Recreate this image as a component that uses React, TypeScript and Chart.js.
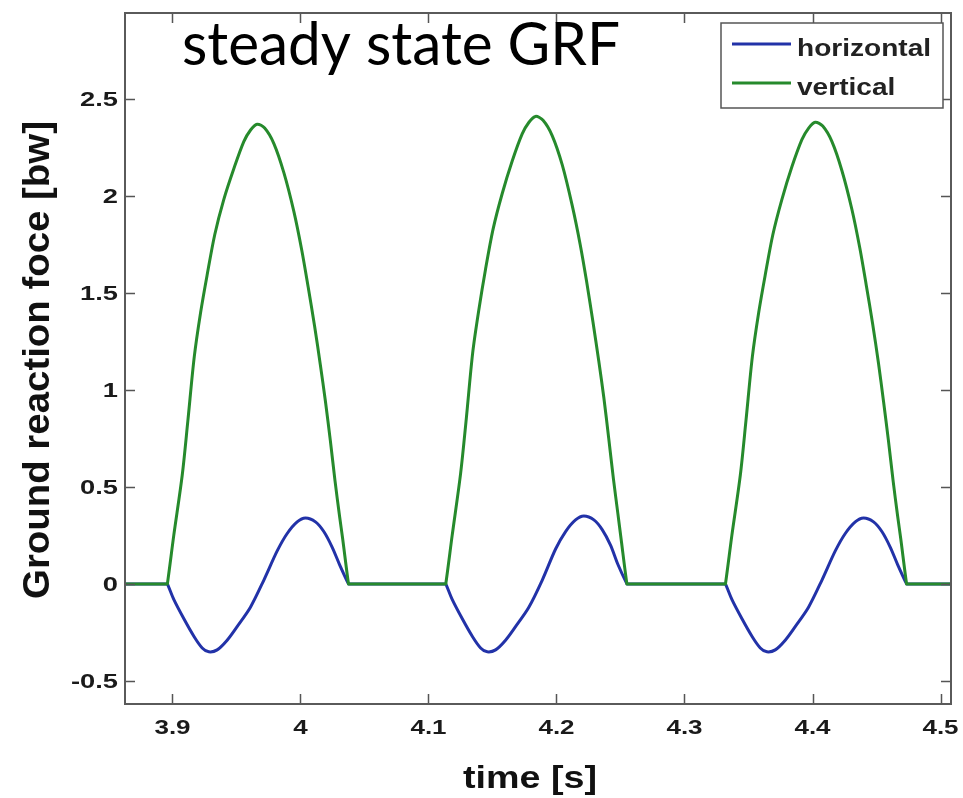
import React, { useEffect, useRef } from "react";
import { Chart, registerables } from "chart.js";

Chart.register(...registerables);

// ---- data ----
const timeV = [
  3.86, 3.8955,
  3.896, 3.901, 3.9076, 3.912, 3.917, 3.922, 3.927, 3.933, 3.94, 3.9479, 3.9557, 3.961, 3.9661,
  3.972, 3.9792, 3.987, 3.9948, 4.001, 4.006, 4.011, 4.0155, 4.0195, 4.0233, 4.027, 4.0305, 4.033, 4.0375,
  4.038, 4.113,
  4.1135, 4.1185, 4.1251, 4.1295, 4.1345, 4.1395, 4.1445, 4.1505, 4.1575, 4.1654, 4.1732, 4.1785, 4.1836,
  4.1895, 4.1967, 4.2045, 4.2123, 4.2185, 4.2235, 4.2285, 4.233, 4.237, 4.2408, 4.2445, 4.248, 4.2505, 4.255,
  4.2555, 4.3315,
  4.332, 4.337, 4.3436, 4.348, 4.353, 4.358, 4.363, 4.369, 4.376, 4.3839, 4.3917, 4.397, 4.4021,
  4.408, 4.4152, 4.423, 4.4308, 4.437, 4.442, 4.447, 4.4515, 4.4555, 4.4593, 4.463, 4.4665, 4.469, 4.4735,
  4.474, 4.51,
];
const vertical = [
  0, 0,
  0, 0.25, 0.56, 0.84, 1.17, 1.4, 1.59, 1.8, 1.98, 2.14, 2.28, 2.34, 2.37,
  2.35, 2.27, 2.12, 1.92, 1.72, 1.53, 1.33, 1.13, 0.94, 0.74, 0.53, 0.35, 0.23, 0,
  0, 0,
  0, 0.25, 0.57, 0.85, 1.19, 1.42, 1.62, 1.83, 2.01, 2.18, 2.32, 2.38, 2.41,
  2.39, 2.31, 2.16, 1.95, 1.75, 1.56, 1.35, 1.15, 0.96, 0.75, 0.54, 0.36, 0.23, 0,
  0, 0,
  0, 0.25, 0.56, 0.84, 1.17, 1.4, 1.59, 1.8, 1.98, 2.15, 2.29, 2.35, 2.38,
  2.36, 2.28, 2.13, 1.93, 1.73, 1.54, 1.34, 1.14, 0.94, 0.74, 0.53, 0.35, 0.23, 0,
  0, 0,
];
const timeH = [
  3.86, 3.8955,
  3.896, 3.901, 3.9089, 3.9167, 3.9232, 3.9284, 3.9349, 3.9427, 3.9505, 3.9609,
  3.9714, 3.9818, 3.9896, 3.9974, 4.0039, 4.0117, 4.0182, 4.0247, 4.0305, 4.0375,
  4.038, 4.113,
  4.1135, 4.1185, 4.1264, 4.1342, 4.1407, 4.1459, 4.1524, 4.1602, 4.168, 4.1784,
  4.1889, 4.1993, 4.2071, 4.2149, 4.2214, 4.2292, 4.2357, 4.2422, 4.248, 4.255,
  4.2555, 4.3315,
  4.332, 4.337, 4.3449, 4.3527, 4.3592, 4.3644, 4.3709, 4.3787, 4.3865, 4.3969,
  4.4074, 4.4178, 4.4256, 4.4334, 4.4399, 4.4477, 4.4542, 4.4607, 4.4665, 4.4735,
  4.474, 4.51,
];
const horizontal = [
  0, 0,
  0, -0.08, -0.18, -0.27, -0.33, -0.35, -0.34, -0.29, -0.22, -0.12,
  0.02, 0.17, 0.26, 0.32, 0.34, 0.32, 0.27, 0.19, 0.1, 0,
  0, 0,
  0, -0.08, -0.18, -0.27, -0.33, -0.35, -0.34, -0.29, -0.22, -0.12,
  0.02, 0.18, 0.27, 0.33, 0.35, 0.33, 0.28, 0.2, 0.1, 0,
  0, 0,
  0, -0.08, -0.18, -0.27, -0.33, -0.35, -0.34, -0.29, -0.22, -0.12,
  0.02, 0.17, 0.26, 0.32, 0.34, 0.32, 0.27, 0.19, 0.1, 0,
  0, 0,
];
const xTicks = [3.9, 4, 4.1, 4.2, 4.3, 4.4, 4.5];
const xTickLabels = ["3.9", "4", "4.1", "4.2", "4.3", "4.4", "4.5"];
const yTicks = [-0.5, 0, 0.5, 1, 1.5, 2, 2.5];
const yTickLabels = ["-0.5", "0", "0.5", "1", "1.5", "2", "2.5"];
const seriesLabels = ["horizontal", "vertical"];
const titleText = "steady state GRF";
const xTitle = "time [s]";
const yTitle = "Ground reaction foce [bw]";

const BLUE = "#2232a8";
const GREEN = "#268a2c";
const BOLD = '"Liberation Sans", Arial, sans-serif';

function drawStretched(
  ctx: CanvasRenderingContext2D,
  text: string,
  x: number,
  y: number,
  font: string,
  sx: number | null,
  targetW: number | null,
  align: CanvasTextAlign,
  baseline: CanvasTextBaseline,
  color: string
) {
  ctx.save();
  ctx.font = font;
  ctx.fillStyle = color;
  ctx.textAlign = align;
  ctx.textBaseline = baseline;
  let s = sx ?? 1;
  if (targetW) {
    const w = ctx.measureText(text).width;
    s = targetW / w;
  }
  ctx.translate(x, y);
  ctx.scale(s, 1);
  ctx.fillText(text, 0, 0);
  ctx.restore();
}

const decor = {
  id: "matlabDecor",
  afterDraw(chart: any) {
    const ctx: CanvasRenderingContext2D = chart.ctx;
    const { left, right, top, bottom } = chart.chartArea;
    const xs = chart.scales.x;
    const ys = chart.scales.y;
    ctx.save();
    // ticks (inward, all four sides)
    ctx.strokeStyle = "#555";
    ctx.lineWidth = 1.5;
    const TL = 10;
    xTicks.forEach((v) => {
      const px = Math.round(xs.getPixelForValue(v)) + 0.5;
      ctx.beginPath();
      ctx.moveTo(px, bottom);
      ctx.lineTo(px, bottom - TL);
      ctx.moveTo(px, top);
      ctx.lineTo(px, top + TL);
      ctx.stroke();
    });
    yTicks.forEach((v) => {
      const py = Math.round(ys.getPixelForValue(v)) + 0.5;
      ctx.beginPath();
      ctx.moveTo(left, py);
      ctx.lineTo(left + TL, py);
      ctx.moveTo(right, py);
      ctx.lineTo(right - TL, py);
      ctx.stroke();
    });
    // frame
    ctx.strokeStyle = "#5a5a5a";
    ctx.lineWidth = 2;
    ctx.strokeRect(left, top, right - left, bottom - top);
    ctx.restore();

    // tick labels
    xTicks.forEach((v, i) => {
      drawStretched(ctx, xTickLabels[i], xs.getPixelForValue(v), 728, `bold 20px ${BOLD}`, 1.3, null, "center", "middle", "#1a1a1a");
    });
    yTicks.forEach((v, i) => {
      drawStretched(ctx, yTickLabels[i], 118, ys.getPixelForValue(v) + 1, `bold 21px ${BOLD}`, 1.3, null, "right", "middle", "#1a1a1a");
    });

    // axis titles
    drawStretched(ctx, xTitle, 530, 779, `bold 32px ${BOLD}`, null, 134, "center", "middle", "#111");
    ctx.save();
    ctx.translate(39, 360);
    ctx.rotate(-Math.PI / 2);
    drawStretched(ctx, yTitle, 0, 0, `bold 37px ${BOLD}`, null, 478, "center", "middle", "#111");
    ctx.restore();

    // title
    drawStretched(ctx, titleText, 182, 65, `60px Lato, "Open Sans", sans-serif`, null, 438, "left", "alphabetic", "#000");

    // legend
    ctx.save();
    ctx.fillStyle = "#fff";
    ctx.fillRect(721, 23, 222, 85);
    ctx.strokeStyle = "#555";
    ctx.lineWidth = 1.5;
    ctx.strokeRect(721, 23, 222, 85);
    const ds = chart.data.datasets;
    const entries = [ds[1], ds[0]];
    const ly = [44, 83];
    entries.forEach((d: any, i: number) => {
      ctx.strokeStyle = d.borderColor;
      ctx.lineWidth = 3;
      ctx.beginPath();
      ctx.moveTo(732, ly[i]);
      ctx.lineTo(791, ly[i]);
      ctx.stroke();
      drawStretched(ctx, d.label, 797, ly[i] + 12, `bold 23px ${BOLD}`, 1.22, null, "left", "alphabetic", "#222");
    });
    ctx.restore();
  },
};

export default function App() {
  const ref = useRef<HTMLCanvasElement | null>(null);
  useEffect(() => {
    if (!ref.current) return;
    const chart = new Chart(ref.current, {
      type: "line",
      data: {
        datasets: [
          {
            label: seriesLabels[1],
            data: timeV.map((t, i) => ({ x: t, y: vertical[i] })),
            borderColor: GREEN,
            backgroundColor: GREEN,
            borderWidth: 3,
            pointRadius: 0,
            tension: 0.3,
            borderJoinStyle: "round",
            fill: false,
          },
          {
            label: seriesLabels[0],
            data: timeH.map((t, i) => ({ x: t, y: horizontal[i] })),
            borderColor: BLUE,
            backgroundColor: BLUE,
            borderWidth: 3,
            pointRadius: 0,
            tension: 0.3,
            borderJoinStyle: "round",
            fill: false,
          },
        ],
      },
      options: {
        animation: false,
        responsive: false,
        devicePixelRatio: 1,
        layout: { padding: { top: 13, right: 12, left: 0, bottom: 0 } },
        plugins: { legend: { display: false }, title: { display: false }, tooltip: { enabled: false } },
        scales: {
          x: {
            type: "linear",
            min: 3.8629,
            max: 4.5082,
            grid: { display: false },
            border: { display: false },
            ticks: { display: false },
            afterBuildTicks: (s: any) => {
              s.ticks = xTicks.map((v) => ({ value: v }));
            },
            afterFit: (s: any) => {
              s.height = 94;
            },
          },
          y: {
            type: "linear",
            min: -0.619,
            max: 2.943,
            grid: { display: false },
            border: { display: false },
            ticks: { display: false },
            afterBuildTicks: (s: any) => {
              s.ticks = yTicks.map((v) => ({ value: v }));
            },
            afterFit: (s: any) => {
              s.width = 125;
            },
          },
        },
      },
      plugins: [decor],
    } as any);
    return () => chart.destroy();
  }, []);
  return (
    <div style={{ position: "fixed", left: 0, top: 0, width: 963, height: 798, background: "#fff" }}>
      <canvas ref={ref} width={963} height={798} style={{ display: "block" }} />
    </div>
  );
}
